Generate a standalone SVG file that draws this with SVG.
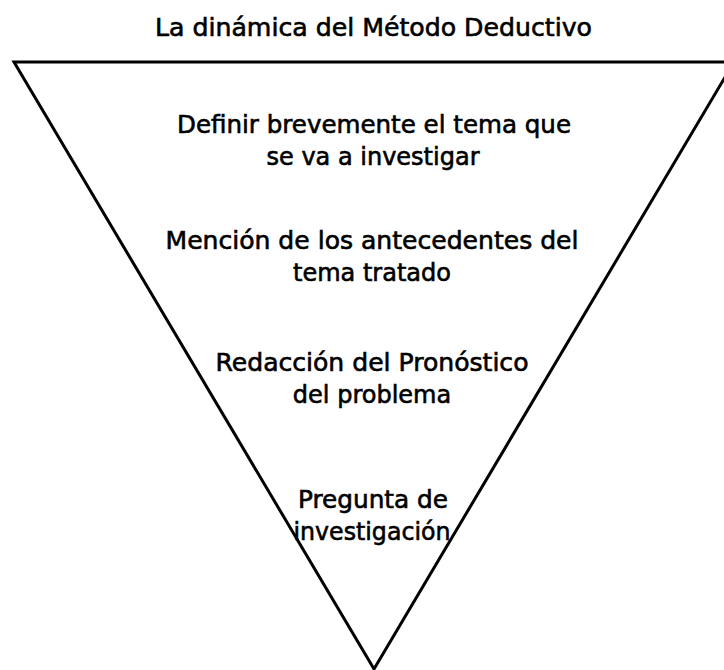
<svg xmlns="http://www.w3.org/2000/svg" width="724" height="670" viewBox="0 0 724 670">
<style>
text{font-family:"DejaVu Sans","Liberation Sans",sans-serif;font-size:24px;fill:#000;stroke:#000;stroke-width:0.6;text-anchor:middle}
.shape{fill:#fff;stroke:#000;stroke-width:3;stroke-linejoin:miter}
</style>
<rect width="724" height="670" fill="#fff"/>
<g id="title"><text x="373.5" y="36" textLength="437" lengthAdjust="spacingAndGlyphs">La dinámica del Método Deductivo</text></g>
<g id="triangle"><polygon class="shape" points="14,62 734,62 374,669"/></g>
<g id="level1">
<text x="374" y="133" textLength="394" lengthAdjust="spacingAndGlyphs">Definir brevemente el tema que</text>
<text x="373" y="165">se va a investigar</text>
</g>
<g id="level2">
<text x="372" y="249" textLength="413" lengthAdjust="spacingAndGlyphs">Mención de los antecedentes del</text>
<text x="372" y="281">tema tratado</text>
</g>
<g id="level3">
<text x="372" y="371" textLength="313" lengthAdjust="spacingAndGlyphs">Redacción del Pronóstico</text>
<text x="372" y="403">del problema</text>
</g>
<g id="level4">
<text x="373" y="508" textLength="150" lengthAdjust="spacingAndGlyphs">Pregunta de</text>
<text x="372" y="540" textLength="157" lengthAdjust="spacingAndGlyphs">investigación</text>
</g>
</svg>
